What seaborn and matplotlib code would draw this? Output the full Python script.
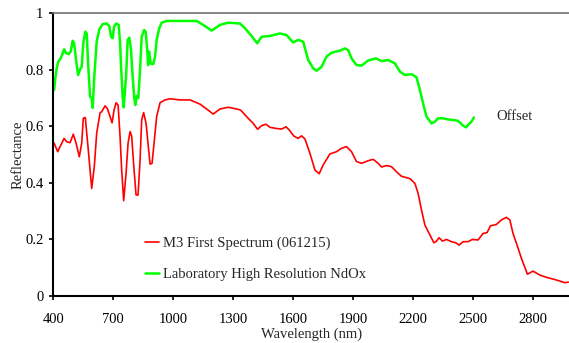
import numpy as np
import pandas as pd
import seaborn as sns
import matplotlib
matplotlib.use('Agg')
import matplotlib.pyplot as plt

# M3 first spectrum (061215)
m3_wl = [404, 422, 434, 454, 467, 484, 500, 514, 530, 542, 550, 560, 575, 592, 605, 617,
         634, 642, 659, 670, 684, 694, 704, 714, 724, 734, 742, 752, 764, 774, 784, 792,
         804, 814, 824, 834, 842, 852, 864, 877, 884, 894, 904, 917, 934, 959, 984, 1034,
         1084, 1134, 1167, 1200, 1234, 1275, 1317, 1337, 1375, 1400, 1422, 1442, 1464, 1484,
         1517, 1542, 1564, 1580, 1604, 1625, 1642, 1659, 1684, 1709, 1730, 1750, 1784, 1817,
         1842, 1867, 1892, 1917, 1942, 1975, 2000, 2025, 2042, 2067, 2092, 2117, 2142, 2184,
         2209, 2225, 2242, 2259, 2284, 2304, 2317, 2330, 2347, 2367, 2392, 2414, 2430, 2450,
         2475, 2497, 2525, 2550, 2570, 2587, 2617, 2642, 2667, 2684, 2700, 2720, 2742, 2772,
         2800, 2834, 2867, 2900, 2934, 2959, 2977]
m3_refl = [0.54, 0.51, 0.528, 0.557, 0.545, 0.542, 0.572, 0.54, 0.492, 0.54, 0.628, 0.631,
           0.516, 0.38, 0.457, 0.575, 0.648, 0.651, 0.672, 0.663, 0.634, 0.612, 0.657, 0.683,
           0.675, 0.563, 0.445, 0.337, 0.434, 0.54, 0.581, 0.565, 0.445, 0.357, 0.357, 0.48,
           0.622, 0.648, 0.61, 0.516, 0.466, 0.469, 0.54, 0.634, 0.683, 0.693, 0.697, 0.693,
           0.693, 0.678, 0.661, 0.643, 0.661, 0.667, 0.661, 0.657, 0.628, 0.61, 0.589, 0.602,
           0.607, 0.596, 0.592, 0.59, 0.598, 0.587, 0.565, 0.557, 0.566, 0.555, 0.504, 0.445,
           0.432, 0.463, 0.502, 0.51, 0.522, 0.528, 0.51, 0.475, 0.469, 0.478, 0.483, 0.469,
           0.456, 0.461, 0.457, 0.439, 0.423, 0.415, 0.398, 0.363, 0.304, 0.251, 0.216, 0.188,
           0.194, 0.206, 0.194, 0.2, 0.192, 0.188, 0.18, 0.192, 0.192, 0.2, 0.198, 0.221,
           0.224, 0.248, 0.253, 0.269, 0.278, 0.269, 0.221, 0.18, 0.133, 0.077, 0.088, 0.074,
           0.066, 0.06, 0.053, 0.047, 0.049]

# laboratory NdOx spectrum (offset)
lab_wl = [404, 410, 417, 425, 437, 447, 454, 464, 477, 487, 497, 504, 514, 524, 534, 542,
          550, 560, 567, 575, 584, 592, 597, 605, 617, 630, 647, 667, 680, 689, 697, 704,
          714, 727, 734, 739, 747, 752, 764, 772, 780, 789, 797, 805, 810, 817, 825, 834,
          842, 854, 862, 870, 874, 879, 887, 900, 909, 917, 930, 942, 967, 1034, 1117, 1150,
          1192, 1234, 1275, 1334, 1359, 1392, 1420, 1442, 1484, 1534, 1567, 1600, 1625, 1650,
          1675, 1700, 1717, 1742, 1767, 1792, 1834, 1859, 1875, 1892, 1917, 1942, 1975, 2014,
          2042, 2075, 2109, 2134, 2159, 2192, 2217, 2234, 2250, 2267, 2292, 2309, 2325, 2350,
          2375, 2400, 2425, 2447, 2464, 2480, 2492, 2504]
lab_refl = [0.728, 0.769, 0.805, 0.828, 0.84, 0.858, 0.872, 0.858, 0.855, 0.864, 0.902, 0.893,
            0.834, 0.781, 0.801, 0.81, 0.893, 0.934, 0.928, 0.81, 0.704, 0.699, 0.665, 0.775,
            0.899, 0.942, 0.961, 0.963, 0.954, 0.916, 0.911, 0.952, 0.963, 0.958, 0.893, 0.81,
            0.704, 0.667, 0.775, 0.905, 0.913, 0.869, 0.775, 0.699, 0.675, 0.707, 0.699, 0.799,
            0.916, 0.94, 0.934, 0.869, 0.816, 0.864, 0.822, 0.819, 0.846, 0.905, 0.946, 0.966,
            0.972, 0.972, 0.972, 0.958, 0.938, 0.958, 0.966, 0.963, 0.946, 0.919, 0.893, 0.916,
            0.919, 0.928, 0.922, 0.896, 0.905, 0.899, 0.834, 0.805, 0.796, 0.81, 0.846, 0.86,
            0.867, 0.875, 0.869, 0.84, 0.816, 0.814, 0.832, 0.84, 0.83, 0.834, 0.822, 0.793,
            0.781, 0.784, 0.773, 0.728, 0.681, 0.634, 0.61, 0.616, 0.628, 0.628, 0.624, 0.622,
            0.619, 0.604, 0.596, 0.608, 0.616, 0.631]

x_ticks = [400, 700, 1000, 1300, 1600, 1900, 2200, 2500, 2800]
y_ticks = [0, 0.2, 0.4, 0.6, 0.8, 1]
y_labels = ['0', '0.2', '0.4', '0.6', '0.8', '1']

sns.set_style('ticks')
plt.rcParams['font.family'] = ['Liberation Serif', 'DejaVu Serif']
fs = 10.5

fig = plt.figure(figsize=(5.69, 3.43), dpi=100)
ax = fig.add_axes([0.0937, 0.137, 0.9063, 0.825])

m3 = pd.DataFrame({'wl': m3_wl, 'refl': m3_refl})
lab = pd.DataFrame({'wl': lab_wl, 'refl': lab_refl})
sns.lineplot(data=m3, x='wl', y='refl', color='#ff0000', lw=1.2,
             label='M3 First Spectrum (061215)', ax=ax)
sns.lineplot(data=lab, x='wl', y='refl', color='#00ff00', lw=1.8,
             label='Laboratory High Resolution NdOx', ax=ax)

ax.set_xlim(400, 2980)
ax.set_ylim(0, 1)
ax.set_xticks(x_ticks)
ax.set_yticks(y_ticks)
ax.set_yticklabels(y_labels)
ax.tick_params(direction='out', length=3, width=1.2, labelsize=fs, colors='black')
ax.tick_params(axis='x', pad=9)
ax.tick_params(axis='y', pad=4)
ax.set_xlabel('Wavelength (nm)', fontsize=fs, labelpad=1)
ax.set_ylabel('Reflectance', fontsize=fs, labelpad=0.5)

for s in ['left', 'bottom']:
    ax.spines[s].set_linewidth(1.5)
    ax.spines[s].set_color('black')
ax.spines['top'].set_color('#707070')
ax.spines['top'].set_linewidth(1.2)
ax.spines['right'].set_visible(False)

ax.text(2615, 0.636, 'Offset', fontsize=fs, va='center', ha='left')

ax.legend(loc='upper left', bbox_to_anchor=(0.178, 0.211), frameon=False,
          handlelength=0.95, handletextpad=0.3, labelspacing=1.25, borderpad=0,
          borderaxespad=0, fontsize=fs)

fig.savefig('out.png', dpi=100)
